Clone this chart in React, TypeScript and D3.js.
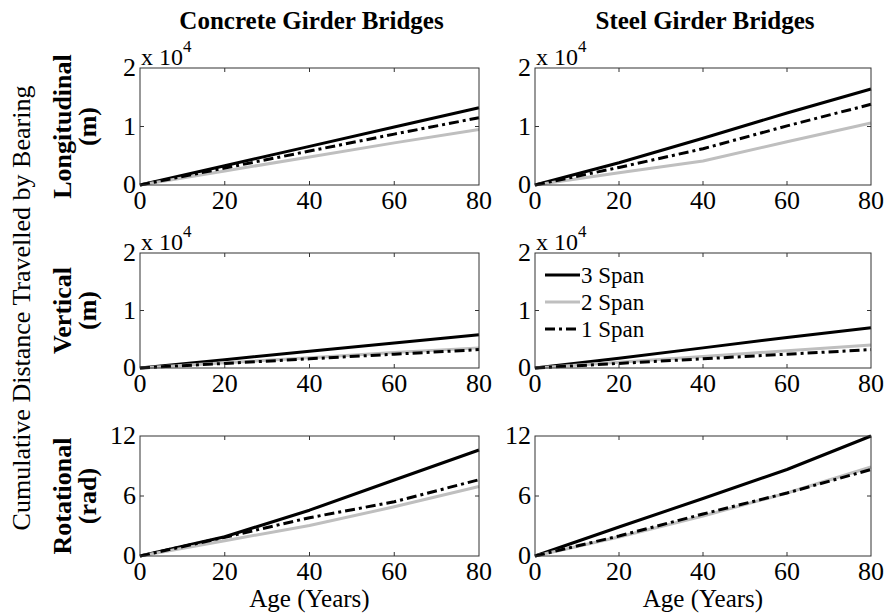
import React from "react";
import * as d3 from "d3";

// Bridge age (years) at which cumulative travel was evaluated
const ages = [0, 20, 40, 60, 80];

const columnTitles = ["Concrete Girder Bridges", "Steel Girder Bridges"];
const rowLabels = ["Longitudinal", "Vertical", "Rotational"];
const rowUnits = ["(m)", "(m)", "(rad)"];
const seriesNames = ["3 Span", "2 Span", "1 Span"];

// y-axis tick values per row (rows 1–2 are in units of 10^4 m)
const rowTicks = [
  [0, 1, 2],
  [0, 1, 2],
  [0, 6, 12],
];
const rowExponent = [true, true, false];
const xTicks = [0, 20, 40, 60, 80];

// Concrete girder bridges
const concreteLong3 = [0, 0.33, 0.66, 0.99, 1.32];
const concreteLong2 = [0, 0.24, 0.48, 0.72, 0.95];
const concreteLong1 = [0, 0.29, 0.58, 0.87, 1.15];
const concreteVert3 = [0, 0.145, 0.29, 0.435, 0.58];
const concreteVert2 = [0, 0.09, 0.18, 0.27, 0.35];
const concreteVert1 = [0, 0.08, 0.16, 0.24, 0.32];
const concreteRot3 = [0, 1.93, 4.58, 7.6, 10.6];
const concreteRot2 = [0, 1.53, 3.05, 4.92, 6.95];
const concreteRot1 = [0, 1.87, 3.83, 5.42, 7.63];

// Steel girder bridges
const steelLong3 = [0, 0.38, 0.8, 1.23, 1.64];
const steelLong2 = [0, 0.21, 0.41, 0.74, 1.06];
const steelLong1 = [0, 0.3, 0.62, 1.01, 1.38];
const steelVert3 = [0, 0.17, 0.35, 0.53, 0.7];
const steelVert2 = [0, 0.1, 0.2, 0.3, 0.4];
const steelVert1 = [0, 0.08, 0.16, 0.24, 0.32];
const steelRot3 = [0, 2.9, 5.75, 8.65, 12];
const steelRot2 = [0, 1.9, 4.0, 6.3, 8.9];
const steelRot1 = [0, 2.0, 4.2, 6.3, 8.65];

const panelData = [
  [
    [concreteLong3, concreteLong2, concreteLong1],
    [steelLong3, steelLong2, steelLong1],
  ],
  [
    [concreteVert3, concreteVert2, concreteVert1],
    [steelVert3, steelVert2, steelVert1],
  ],
  [
    [concreteRot3, concreteRot2, concreteRot1],
    [steelRot3, steelRot2, steelRot1],
  ],
];

const colX = [
  [140, 479],
  [535, 871],
];
const rowY = [
  [68, 185],
  [253, 368],
  [436, 556],
];

const seriesStyle = [
  { stroke: "#000", dash: undefined as string | undefined },
  { stroke: "#bfbfbf", dash: undefined as string | undefined },
  { stroke: "#000", dash: "10 4 3 4" },
];

const FONT = "'Liberation Serif', 'Times New Roman', serif";
const FS = 26;

function Panel({ row, col }: { row: number; col: number }) {
  const [x0, x1] = colX[col];
  const [y0, y1] = rowY[row];
  const ticks = rowTicks[row];
  const x = d3.scaleLinear().domain([0, 80]).range([x0, x1]);
  const y = d3
    .scaleLinear()
    .domain([ticks[0], ticks[ticks.length - 1]])
    .range([y1, y0]);
  const line = d3
    .line<number>()
    .x((_, i) => x(ages[i]))
    .y((v) => y(v));
  const tl = 4;
  return (
    <g>
      {panelData[row][col].map((vals, i) => (
        <path
          key={i}
          d={line(vals) || ""}
          fill="none"
          stroke={seriesStyle[i].stroke}
          strokeWidth={3}
          strokeDasharray={seriesStyle[i].dash}
          strokeLinejoin="round"
        />
      ))}
      <rect x={x0} y={y0} width={x1 - x0} height={y1 - y0} fill="none" stroke="#333" strokeWidth={1} />
      {xTicks.slice(1, -1).map((t) => (
        <g key={"xt" + t}>
          <line x1={x(t)} x2={x(t)} y1={y1} y2={y1 - tl} stroke="#333" />
          <line x1={x(t)} x2={x(t)} y1={y0} y2={y0 + tl} stroke="#333" />
        </g>
      ))}
      {ticks.slice(1, -1).map((t) => (
        <g key={"yt" + t}>
          <line x1={x0} x2={x0 + tl} y1={y(t)} y2={y(t)} stroke="#333" />
          <line x1={x1} x2={x1 - tl} y1={y(t)} y2={y(t)} stroke="#333" />
        </g>
      ))}
      {xTicks.map((t) => (
        <text key={"xl" + t} x={x(t)} y={y1 + 24} textAnchor="middle" fontFamily={FONT} fontSize={FS}>
          {t}
        </text>
      ))}
      {ticks.map((t) => (
        <text key={"yl" + t} x={x0 - 4} y={y(t) + 8} textAnchor="end" fontFamily={FONT} fontSize={FS}>
          {t}
        </text>
      ))}
      {rowExponent[row] && (
        <text x={x0 + 1} y={y0 - 3} fontFamily={FONT} fontSize={24}>
          x 10
          <tspan dy={-13} fontSize={17}>
            4
          </tspan>
        </text>
      )}
    </g>
  );
}

function Legend() {
  const lx0 = 545;
  const lx1 = 580;
  const ly = [275, 302, 329];
  return (
    <g>
      {seriesNames.map((name, i) => (
        <g key={name}>
          <line
            x1={lx0}
            x2={lx1}
            y1={ly[i]}
            y2={ly[i]}
            stroke={seriesStyle[i].stroke}
            strokeWidth={3}
            strokeDasharray={seriesStyle[i].dash}
          />
          <text x={lx1 + 1} y={ly[i] + 8} fontFamily={FONT} fontSize={23}>
            {name}
          </text>
        </g>
      ))}
    </g>
  );
}

export default function App() {
  return (
    <svg width={886} height={614} style={{ position: "absolute", left: 0, top: 0, background: "#fff" }}>
      {columnTitles.map((t, c) => (
        <text
          key={t}
          x={(colX[c][0] + colX[c][1]) / 2 + 2}
          y={29}
          textAnchor="middle"
          fontFamily={FONT}
          fontSize={25}
          fontWeight="bold"
        >
          {t}
        </text>
      ))}
      <text
        transform={`translate(30, 308) rotate(-90)`}
        textAnchor="middle"
        fontFamily={FONT}
        fontSize={FS}
      >
        Cumulative Distance Travelled by Bearing
      </text>
      {rowLabels.map((lab, r) => {
        const cy = (rowY[r][0] + rowY[r][1]) / 2;
        return (
          <g key={lab}>
            <text
              transform={`translate(71, ${cy}) rotate(-90)`}
              textAnchor="middle"
              fontFamily={FONT}
              fontSize={FS}
              fontWeight="bold"
            >
              {lab}
            </text>
            <text
              transform={`translate(96, ${cy}) rotate(-90)`}
              textAnchor="middle"
              fontFamily={FONT}
              fontSize={FS}
              fontWeight="bold"
            >
              {rowUnits[r]}
            </text>
          </g>
        );
      })}
      {rowY.map((_, r) =>
        colX.map((__, c) => <Panel key={r + "-" + c} row={r} col={c} />)
      )}
      <Legend />
      {colX.map((cx, c) => (
        <text
          key={"age" + c}
          x={(cx[0] + cx[1]) / 2}
          y={607}
          textAnchor="middle"
          fontFamily={FONT}
          fontSize={25}
        >
          Age (Years)
        </text>
      ))}
    </svg>
  );
}
